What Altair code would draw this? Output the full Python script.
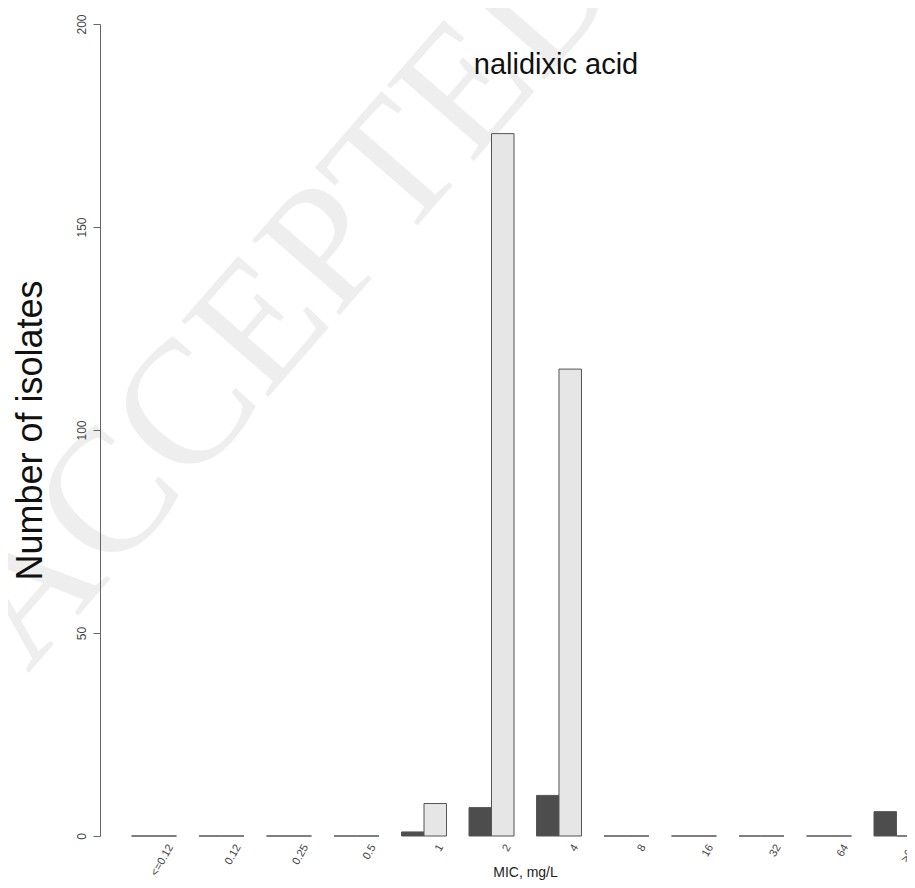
import altair as alt
import pandas as pd

# ---- data ----
categories = ["<=0.12", "0.12", "0.25", "0.5", "1", "2", "4", "8", "16", "32", "64", ">64"]
series_names = ["dark", "light"]
dark_counts = [0, 0, 0, 0, 1, 7, 10, 0, 0, 0, 0, 6]
light_counts = [0, 0, 0, 0, 8, 173, 115, 0, 0, 0, 0, 0]
y_ticks = [0, 50, 100, 150, 200]
main_title = ["nalidixic acid"]
watermark = ["ACCEPTED"]

rows = []
for c, d, l in zip(categories, dark_counts, light_counts):
    rows.append({"MIC": c, "series": series_names[0], "count": d})
    rows.append({"MIC": c, "series": series_names[1], "count": l})
df = pd.DataFrame(rows)

FONT = "Liberation Sans"
PLOT_W = 807
PLOT_H = 812

x_enc = alt.X(
    "MIC:N",
    sort=categories,
    scale=alt.Scale(
        type="band",
        range=[0, 850.5],
        paddingInner=1 / 3,
        paddingOuter=0.4667,
    ),
    axis=alt.Axis(
        title="MIC, mg/L",
        titleFont=FONT,
        titleFontSize=14,
        titleFontWeight="normal",
        titleColor="#222222",
        titleX=425,
        titleY=40,
        titleBaseline="alphabetic",
        titleAlign="center",
        labelAngle=300,
        labelAlign="right",
        labelBaseline="middle",
        labelOffset=17,
        labelPadding=9,
        labelFont=FONT,
        labelFontSize=11,
        labelColor="#444444",
        labelOverlap=False,
        domain=False,
        ticks=False,
        grid=False,
        zindex=1,
    ),
)

y_enc = alt.Y(
    "count:Q",
    scale=alt.Scale(domain=[0, 200], nice=False, zero=True),
    axis=alt.Axis(
        values=y_ticks,
        title="Number of isolates",
        titleFont=FONT,
        titleFontSize=36,
        titleFontWeight="normal",
        titleColor="#111111",
        titleAngle=270,
        titleX=-70,
        titleY=PLOT_H / 2,
        titleAlign="center",
        titleBaseline="middle",
        labelAngle=270,
        labelAlign="center",
        labelBaseline="bottom",
        labelPadding=5,
        labelFont=FONT,
        labelFontSize=12,
        labelColor="#444444",
        tickSize=7,
        tickColor="#666666",
        domainColor="#666666",
        grid=False,
        zindex=1,
    ),
)

bars = alt.Chart(df).mark_bar(stroke="#555555", strokeWidth=1, clip=False).encode(
    x=x_enc,
    xOffset=alt.XOffset("series:N", sort=series_names,
                        scale=alt.Scale(domain=series_names, paddingInner=0, paddingOuter=0)),
    y=y_enc,
    fill=alt.Fill("series:N", scale=alt.Scale(domain=series_names, range=["#4d4d4d", "#e6e6e6"]),
                  legend=None),
)

wm = alt.Chart(pd.DataFrame({"t": watermark})).mark_text(
    font="Liberation Serif", fontSize=176, color="#eeeeee", angle=311,
    align="center", baseline="middle",
).encode(text="t:N", x=alt.value(186), y=alt.value(272))

title_txt = alt.Chart(pd.DataFrame({"t": main_title})).mark_text(
    font=FONT, fontSize=29, color="#111111", align="center", baseline="middle",
).encode(text="t:N", x=alt.value(456), y=alt.value(41))

chart = alt.layer(wm, bars, title_txt).properties(
    width=PLOT_W,
    height=PLOT_H,
    autosize=alt.AutoSizeParams(type="none"),
    padding={"left": 92, "top": 16, "right": 0, "bottom": 44},
).configure_view(stroke=None)

chart.save("out.html", embed_options={"renderer": "svg", "actions": False})
